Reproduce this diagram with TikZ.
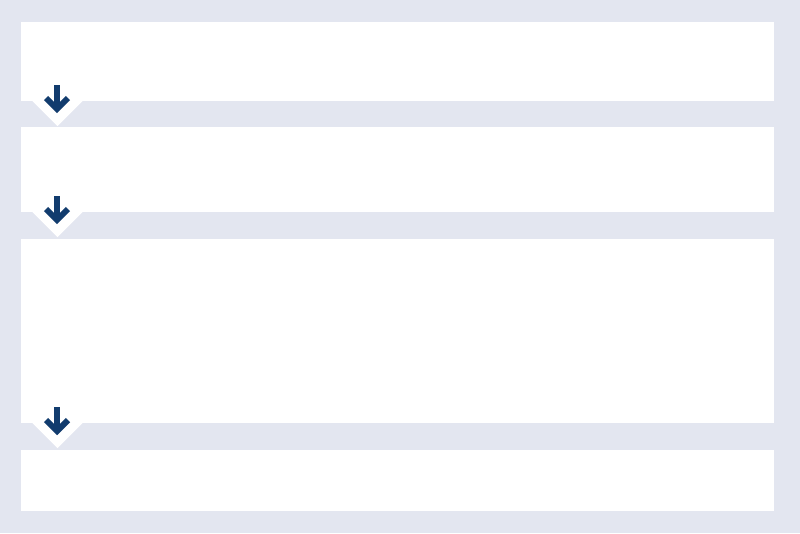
\documentclass[tikz,border=0pt]{standalone}
\usetikzlibrary{calc}
\definecolor{bgc}{HTML}{E3E6F0}
\definecolor{navy}{HTML}{123C6E}
\begin{document}
\begin{tikzpicture}[x=1pt,y=-1pt,
  panel/.style={fill=white,draw=none,inner sep=0pt,anchor=north west,minimum width=753pt,outer sep=0pt},
  notch/.style={fill=white,draw=none},
  flowarrow/.style={draw=navy,line width=6pt,miter limit=10}]
\fill[bgc] (0,0) rectangle (800,533);
\useasboundingbox (0,0) rectangle (800,533);
\node[panel,minimum height=79pt] (b1) at (21,22) {};
\node[panel,minimum height=85pt] (b2) at (21,127) {};
\node[panel,minimum height=184pt] (b3) at (21,239) {};
\node[panel,minimum height=61pt] (b4) at (21,450) {};
\foreach \b in {b1,b2,b3}{
  \fill[notch] ($(\b.south west)+(11,-0.5)$) -- ($(\b.south west)+(62,-0.5)$) -- ($(\b.south west)+(36.5,25)$) -- cycle;
  \draw[flowarrow] ($(\b.south west)+(36,-16)$) -- ($(\b.south west)+(36,8)$);
  \draw[flowarrow,line join=miter] ($(\b.south west)+(25,-3)$) -- ($(\b.south west)+(36,8)$) -- ($(\b.south west)+(47,-3)$);
}
\end{tikzpicture}
\end{document}
